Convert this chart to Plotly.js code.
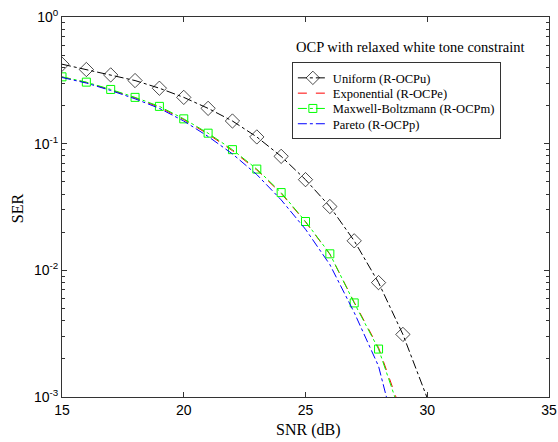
<!DOCTYPE html>
<html>
<head>
<meta charset="utf-8">
<script src="https://cdn.plot.ly/plotly-3.0.1.min.js"></script>
<style>html,body{margin:0;padding:0;background:#fff;}#chart{width:558px;height:442px;}</style>
</head>
<body>
<div id="chart"></div>
<script>
const snr = [15,16,17,18,19,20,21,22,23,24,25,26,27,28,29];
const snrU = [15,16,17,18,19,20,21,22,23,24,25,26,27,28,29,30];
const serUniform = [0.424,0.385,0.349,0.315,0.274,0.232,0.19,0.151,0.113,0.0794,0.052,0.0319,0.0171,0.0080,0.00312,0.00098];
const serExponential = [0.336,0.304,0.266,0.230,0.194,0.155,0.119,0.088,0.062,0.0405,0.0241,0.0134,0.0056,0.00245,0.0007];
const serMaxwell = [0.337,0.306,0.268,0.232,0.197,0.157,0.121,0.0897,0.063,0.0411,0.0243,0.0135,0.00553,0.00239,0.00065];
const serPareto = [0.333,0.301,0.263,0.226,0.190,0.151,0.114,0.083,0.057,0.036,0.0211,0.0111,0.00465,0.00175,0.00031];
const names = ['Uniform (R-OCPu)','Exponential (R-OCPe)','Maxwell-Boltzmann (R-OCPm)','Pareto (R-OCPp)'];
const yTickVals = [0.001,0.01,0.1,1];
const yTickText = ['10<sup>-3</sup>','10<sup>-2</sup>','10<sup>-1</sup>','10<sup>0</sup>'];
const xTickVals = [15,20,25,30,35];
const titleText = 'OCP with relaxed white tone constraint';
const xTitle = 'SNR (dB)';
const yTitle = 'SER';

const serif = 'Liberation Serif, Times New Roman, serif';
const sans = 'Liberation Sans, Arial, sans-serif';

const traces = [
  {x: snrU, y: serUniform, name: names[0], mode:'lines+markers',
   line:{color:'#000000', width:1, dash:'dashdot'},
   marker:{symbol:'diamond-open', size:snrU.map((v,i)=> i < snrU.length-1 ? 11 : 0), color:'#000000', line:{width:1}}},
  {x: snr, y: serExponential, name: names[1], mode:'lines',
   line:{color:'#ff0000', width:1, dash:'dash'}},
  {x: snr, y: serMaxwell, name: names[2], mode:'lines+markers',
   line:{color:'#00ff00', width:1, dash:'dashdot'},
   marker:{symbol:'square-open', size:8, color:'#00ff00', line:{width:1}}},
  {x: snr, y: serPareto, name: names[3], mode:'lines',
   line:{color:'#0000ff', width:1, dash:'dashdot'}}
];

const axisCommon = {
  showline:true, linecolor:'#333', linewidth:1, mirror:'allticks',
  ticks:'inside', ticklen:5, tickcolor:'#333', showgrid:false, zeroline:false,
  tickfont:{family:sans, size:14, color:'#000'}
};

const layout = {
  width:558, height:442,
  margin:{l:62, r:9, t:17, b:45},
  paper_bgcolor:'#fff', plot_bgcolor:'#fff',
  showlegend:true,
  xaxis: Object.assign({}, axisCommon, {
    range:[15,35], tickvals:xTickVals, ticktext:xTickVals.map(String)
  }),
  yaxis: Object.assign({}, axisCommon, {
    type:'log', range:[-3,0], tickvals:yTickVals, ticktext:yTickText,
    minor:{ticks:'inside', ticklen:3, tickcolor:'#333', dtick:'D1', showgrid:false}
  }),
  legend:{
    x:0.472, y:0.881, xanchor:'left', yanchor:'top',
    bgcolor:'#fff', bordercolor:'#333', borderwidth:1,
    font:{family:serif, size:12.5, color:'#000'},
    tracegroupgap:0
  },
  annotations:[
    {text:titleText, xref:'paper', yref:'paper', x:0.7166, y:0.921, xanchor:'center', yanchor:'middle',
     showarrow:false, font:{family:serif, size:14.5, color:'#000'}},
    {text:xTitle, xref:'paper', yref:'paper', x:0.505, y:-0.086, xanchor:'center', yanchor:'middle',
     showarrow:false, font:{family:serif, size:16, color:'#000'}},
    {text:yTitle, xref:'paper', yref:'paper', x:-0.0924, y:0.497, xanchor:'center', yanchor:'middle',
     textangle:-90, showarrow:false, font:{family:serif, size:16, color:'#000'}}
  ]
};

function tightenLegend(gd){
  const items = gd.querySelectorAll('.legend .traces');
  if(items.length < 2) return;
  const rowGap = 15.3;
  const parse = el => {
    const t = el.getAttribute('transform') || '';
    const m = t.match(/translate\(\s*([-\d.e]+)[ ,]+([-\d.e]+)\s*\)/);
    return m ? [parseFloat(m[1]), parseFloat(m[2])] : [0,0];
  };
  const first = parse(items[0]);
  const oldLast = parse(items[items.length-1]);
  items.forEach((el,i)=>{
    const p = parse(el);
    el.setAttribute('transform','translate(' + p[0] + ',' + (first[1] + i*rowGap) + ')');
  });
  const shrink = (oldLast[1]-first[1]) - (items.length-1)*rowGap;
  const bg = gd.querySelector('.legend .bg');
  if(bg){
    const h = parseFloat(bg.getAttribute('height'));
    bg.setAttribute('height', h - shrink);
  }
}

Plotly.newPlot('chart', traces, layout, {displayModeBar:false, staticPlot:true}).then(gd=>tightenLegend(gd));
</script>
</body>
</html>
